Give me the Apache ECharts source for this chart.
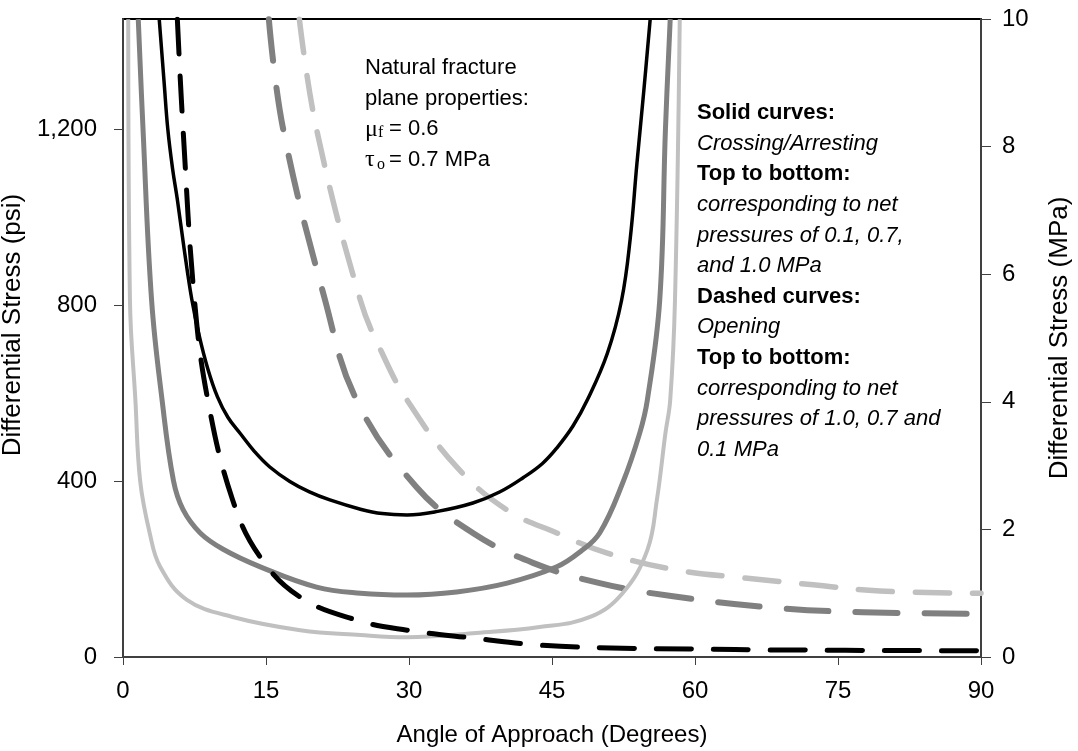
<!DOCTYPE html>
<html>
<head>
<meta charset="utf-8">
<script src="https://cdn.jsdelivr.net/npm/echarts@6/dist/echarts.min.js"></script>
<style>
html,body{margin:0;padding:0;background:#fff;}
#chart{width:1078px;height:751px;}
</style>
</head>
<body>
<div id="chart"></div>
<script>
// ---- data (angle in degrees, differential stress in psi) ----
const xTicks = [0, 15, 30, 45, 60, 75, 90];
const psiTicks = [0, 400, 800, 1200];
const mpaTicks = [0, 2, 4, 6, 8, 10];
const psiMax = 1450.38; // 10 MPa

// Solid curves: Crossing/Arresting, net pressures 0.1, 0.7, 1.0 MPa
const solidNet01 = [[3.8,1450],[4.3,1310],[4.7,1200],[5.2,1110],[5.7,1040],[6.4,930],[7.2,815],[8.0,730],[8.9,655],[9.9,592],[11.0,545],[12.3,508],[13.8,467],[15.4,432],[17.5,399],[19.5,376],[21.7,357],[24.9,336],[27.2,326],[29.8,323],[33,331],[36.7,350],[39.5,375],[42,408],[44,440],[45.5,475],[47.2,525],[48.7,584],[50.8,690],[52.3,811],[53.2,950],[53.9,1120],[54.6,1280],[55.3,1450]];
const solidNet07 = [[1.6,1450],[2.1,1200],[3.0,811],[4.1,584],[5.3,400],[6.3,335],[8.1,282],[10.5,245],[14.4,205],[20.3,159],[24.9,145],[29.8,141],[35,148],[40.3,168],[45.5,205],[48,240],[50,282],[52.4,395],[54.2,509],[55,584],[56.3,811],[56.9,1200],[57.4,1450]];
const solidNet10 = [[0.55,1450],[0.73,811],[1.3,584],[1.8,400],[2.8,282],[3.9,205],[6.7,130],[11.5,91],[18.6,61],[24.9,50],[29.8,45],[36.7,54],[43.7,68],[49,91],[52.4,145],[55,243],[56,357],[56.9,509],[57.4,584],[57.9,811],[58.4,1450]];
// Dashed curves: Opening, net pressures 1.0, 0.7, 0.1 MPa
const dashNet10 = [[18.5,1450],[20.3,1200],[24.9,811],[27.2,690],[29.8,584],[35,432],[40.3,334],[45.5,282],[50.8,236],[58,198],[65.5,179],[72.4,164],[79.4,150],[90,145]];
const dashNet07 = [[15.3,1450],[16.8,1200],[21.2,811],[24.5,584],[30.8,386],[36.7,282],[43,214],[50,168],[57.7,138],[68.9,111],[77.6,102],[90,98]];
const dashNet01 = [[5.7,1450],[6.3,1200],[7.5,811],[8.9,584],[11.5,357],[14.4,227],[18.6,136],[24.5,84],[29.8,61],[36.7,43],[43.7,27],[52.4,20],[59.5,18],[68.9,16],[90,14]];

const propLines = ['Natural fracture', 'plane properties:'];
const noteLines = [
  ['Solid curves:', 'b'], ['Crossing/Arresting', 'i'], ['Top to bottom:', 'b'],
  ['corresponding to net', 'i'], ['pressures of 0.1, 0.7,', 'i'], ['and 1.0 MPa', 'i'],
  ['Dashed curves:', 'b'], ['Opening', 'i'], ['Top to bottom:', 'b'],
  ['corresponding to net', 'i'], ['pressures of 1.0, 0.7 and', 'i'], ['0.1 MPa', 'i']
];

const SANS = '"Liberation Sans", Arial, sans-serif';
const SERIF = '"Liberation Serif", "DejaVu Serif", serif';

const chart = echarts.init(document.getElementById('chart'), null, {renderer: 'canvas'});

function lineSeries(name, data, color, width, dash) {
  return {
    name, type: 'line', data, symbol: 'none', smooth: 0.4,
    clip: true, yAxisIndex: 0,
    lineStyle: {color, width, type: dash || 'solid', cap: dash ? 'round' : 'butt', join: 'round'}
  };
}

const graphics = [];
propLines.forEach((t, i) => {
  graphics.push({type: 'text', x: 365, y: 68 + i * 30.5, style: {text: t, fontSize: 22, fontFamily: SANS, fill: '#000', verticalAlign: 'middle'}});
});
graphics.push({type: 'text', x: 365, y: 130, style: {text: 'μ', fontSize: 24, fontFamily: SERIF, fill: '#000', verticalAlign: 'middle'}});
graphics.push({type: 'text', x: 378, y: 133, style: {text: 'f', fontSize: 16, fontFamily: SERIF, fill: '#000', verticalAlign: 'middle'}});
graphics.push({type: 'text', x: 389, y: 129, style: {text: '= 0.6', fontSize: 22, fontFamily: SANS, fill: '#000', verticalAlign: 'middle'}});
graphics.push({type: 'text', x: 365, y: 160, style: {text: 'τ', fontSize: 24, fontFamily: SERIF, fill: '#000', verticalAlign: 'middle'}});
graphics.push({type: 'text', x: 377, y: 165, style: {text: 'o', fontSize: 16, fontFamily: SERIF, fill: '#000', verticalAlign: 'middle'}});
graphics.push({type: 'text', x: 389, y: 160, style: {text: '= 0.7 MPa', fontSize: 22, fontFamily: SANS, fill: '#000', verticalAlign: 'middle'}});
noteLines.forEach((l, i) => {
  graphics.push({type: 'text', x: 697, y: 113 + i * 30.6, style: {
    text: l[0], fontSize: 22, fontFamily: SANS, fill: '#000', verticalAlign: 'middle',
    fontWeight: l[1] === 'b' ? 'bold' : 'normal', fontStyle: l[1] === 'i' ? 'italic' : 'normal'}});
});

const option = {
  animation: false,
  backgroundColor: '#fff',
  grid: {left: 123, right: 97, top: 19, bottom: 94, containLabel: false, outerBoundsMode: 'none',
         show: true, borderColor: '#000', borderWidth: 2, backgroundColor: 'transparent'},
  xAxis: {
    type: 'value', min: 0, max: 90, interval: 15,
    name: 'Angle of Approach (Degrees)', nameLocation: 'middle', nameGap: 66,
    nameTextStyle: {fontSize: 24, fontFamily: SANS, color: '#000'},
    axisLine: {show: true, onZero: false, lineStyle: {color: '#404040', width: 2}},
    axisTick: {show: true, length: 8, lineStyle: {color: '#404040', width: 1}, customValues: xTicks},
    axisLabel: {fontSize: 24, fontFamily: SANS, color: '#000', margin: 22, customValues: xTicks},
    splitLine: {show: false}
  },
  yAxis: [{
    type: 'value', min: 0, max: psiMax, position: 'left',
    name: 'Differential Stress (psi)', nameLocation: 'middle', nameGap: 88, nameRotate: 90,
    nameTextStyle: {fontSize: 26, fontFamily: SANS, color: '#000', padding: [0, 0, 0, 26]},
    axisLine: {show: true, onZero: false, lineStyle: {color: '#404040', width: 2}},
    axisTick: {show: true, length: 9, lineStyle: {color: '#404040', width: 1}, customValues: psiTicks},
    axisLabel: {fontSize: 24, fontFamily: SANS, color: '#000', margin: 26, customValues: psiTicks,
      formatter: v => Number(v).toLocaleString('en-US')},
    splitLine: {show: false}
  }, {
    type: 'value', min: 0, max: 10, interval: 2, position: 'right',
    name: 'Differential Stress (MPa)', nameLocation: 'middle', nameGap: 66, nameRotate: 90,
    nameTextStyle: {fontSize: 26, fontFamily: SANS, color: '#000'},
    axisLine: {show: true, onZero: false, lineStyle: {color: '#404040', width: 2}},
    axisTick: {show: true, length: 10, lineStyle: {color: '#404040', width: 1}, customValues: mpaTicks},
    axisLabel: {fontSize: 24, fontFamily: SANS, color: '#000', margin: 21, customValues: mpaTicks},
    splitLine: {show: false}
  }],
  series: [
    lineSeries('Opening 1.0 MPa', dashNet10, '#c0c0c0', 5.5, [34, 23]),
    lineSeries('Opening 0.7 MPa', dashNet07, '#808080', 6, [42, 27]),
    lineSeries('Crossing 1.0 MPa', solidNet10, '#c0c0c0', 4),
    lineSeries('Crossing 0.7 MPa', solidNet07, '#808080', 5),
    lineSeries('Crossing 0.1 MPa', solidNet01, '#000000', 3.5),
    lineSeries('Opening 0.1 MPa', dashNet01, '#000000', 5, [35, 22])
  ],
  graphic: graphics
};
chart.setOption(option);
</script>
</body>
</html>
